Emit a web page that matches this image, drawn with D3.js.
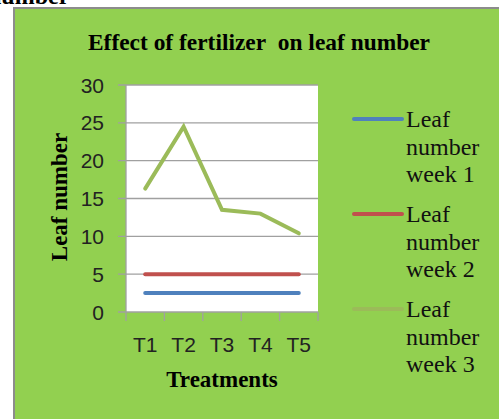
<!DOCTYPE html>
<html>
<head>
<meta charset="utf-8">
<script src="https://cdn.jsdelivr.net/npm/d3@7"></script>
<style>
  body { margin: 0; background: #fff; }
  svg { display: block; }
</style>
</head>
<body>
<script>
// data
var treatments = ["T1", "T2", "T3", "T4", "T5"];
var week1 = [2.5, 2.5, 2.5, 2.5, 2.5];
var week2 = [5, 5, 5, 5, 5];
var week3 = [16.3, 24.5, 13.5, 13, 10.4];
var seriesNames = ["Leaf number week 1", "Leaf number week 2", "Leaf number week 3"];
var yTicks = [0, 5, 10, 15, 20, 25, 30];

var colors = ["#4F81BD", "#C0504D", "#9BBB59"];
var series = [week1, week2, week3];

var W = 499, H = 419;
var plot = {left: 126, right: 318, top: 85, bottom: 312};

var svg = d3.select("body").append("svg")
  .attr("width", W)
  .attr("height", H);

// text from page above, cut off
svg.append("text")
  .attr("x", -12).attr("y", 4)
  .attr("font-family", "Liberation Serif")
  .attr("font-weight", "bold")
  .attr("font-size", 24)
  .attr("fill", "#000")
  .text("number");

// chart background + border
svg.append("rect")
  .attr("x", 14).attr("y", 8)
  .attr("width", W).attr("height", H)
  .attr("fill", "#92D050")
  .attr("stroke", "#8c8c8c")
  .attr("stroke-width", 2);

svg.append("text")
  .attr("x", 259).attr("y", 50)
  .attr("text-anchor", "middle")
  .attr("font-family", "Liberation Serif")
  .attr("font-weight", "bold")
  .attr("font-size", 23)
  .attr("textLength", 342)
  .attr("lengthAdjust", "spacingAndGlyphs")
  .text("Effect of fertilizer\u00a0 on leaf number");

var x = d3.scaleBand().domain(treatments).range([plot.left, plot.right]);
var y = d3.scaleLinear().domain([0, 30]).range([plot.bottom, plot.top]);

// plot area
svg.append("rect")
  .attr("x", plot.left).attr("y", plot.top)
  .attr("width", plot.right - plot.left)
  .attr("height", plot.bottom - plot.top)
  .attr("fill", "#fff");

// gridlines + y ticks
svg.selectAll("line.grid")
  .data(yTicks).enter()
  .append("line")
  .attr("class", "grid")
  .attr("x1", plot.left - 8).attr("x2", plot.right)
  .attr("y1", function(d) { return y(d); })
  .attr("y2", function(d) { return y(d); })
  .attr("stroke", "#a0a0a0")
  .attr("stroke-width", 1.3);

svg.append("line")
  .attr("x1", plot.left).attr("x2", plot.left)
  .attr("y1", plot.top).attr("y2", plot.bottom)
  .attr("stroke", "#a0a0a0").attr("stroke-width", 1.3);

svg.selectAll("text.ytick")
  .data(yTicks).enter()
  .append("text")
  .attr("class", "ytick")
  .attr("x", 104)
  .attr("y", function(d) { return y(d) + 7.5; })
  .attr("text-anchor", "end")
  .attr("font-family", "Liberation Sans")
  .attr("font-size", 21)
  .attr("fill", "#222")
  .text(function(d) { return d; });

// x ticks at band boundaries
var xb = treatments.map(function(t) { return x(t); }).concat([plot.right]);
svg.selectAll("line.xtick")
  .data(xb).enter()
  .append("line")
  .attr("class", "xtick")
  .attr("x1", function(d) { return d; }).attr("x2", function(d) { return d; })
  .attr("y1", plot.bottom).attr("y2", plot.bottom + 9)
  .attr("stroke", "#a0a0a0").attr("stroke-width", 1.3);

svg.selectAll("text.xtick")
  .data(treatments).enter()
  .append("text")
  .attr("class", "xtick")
  .attr("x", function(d) { return x(d) + x.bandwidth() / 2; })
  .attr("y", 352)
  .attr("text-anchor", "middle")
  .attr("font-family", "Liberation Sans")
  .attr("font-size", 21)
  .attr("fill", "#222")
  .text(function(d) { return d; });

// axis titles
svg.append("text")
  .attr("x", 222).attr("y", 387)
  .attr("text-anchor", "middle")
  .attr("font-family", "Liberation Serif")
  .attr("font-weight", "bold")
  .attr("font-size", 23)
  .text("Treatments");

svg.append("text")
  .attr("transform", "translate(67,197) rotate(-90)")
  .attr("text-anchor", "middle")
  .attr("font-family", "Liberation Serif")
  .attr("font-weight", "bold")
  .attr("font-size", 23)
  .text("Leaf number");

// lines
var line = d3.line()
  .x(function(d, i) { return x(treatments[i]) + x.bandwidth() / 2; })
  .y(function(d) { return y(d); });

svg.selectAll("path.series")
  .data(series).enter()
  .append("path")
  .attr("class", "series")
  .attr("d", line)
  .attr("fill", "none")
  .attr("stroke", function(d, i) { return colors[i]; })
  .attr("stroke-width", 4)
  .attr("stroke-linecap", "round")
  .attr("stroke-linejoin", "miter");

// legend
var leg = svg.selectAll("g.leg")
  .data(seriesNames).enter()
  .append("g")
  .attr("class", "leg")
  .attr("transform", function(d, i) { return "translate(0," + (127 + i * 95) + ")"; });

leg.append("line")
  .attr("x1", 354).attr("x2", 402)
  .attr("y1", -8).attr("y2", -8)
  .attr("stroke", function(d, i) { return colors[i]; })
  .attr("stroke-width", 4)
  .attr("stroke-linecap", "round");

leg.append("text")
  .attr("x", 406)
  .attr("font-family", "Liberation Serif")
  .attr("font-size", 24)
  .attr("fill", "#111")
  .selectAll("tspan")
  .data(function(d) { return ["Leaf", "number", d.replace("Leaf number ", "")]; })
  .enter().append("tspan")
  .attr("x", 406)
  .attr("dy", function(d, i) { return i === 0 ? 0 : 27.7; })
  .text(function(d) { return d; });
</script>
</body>
</html>
